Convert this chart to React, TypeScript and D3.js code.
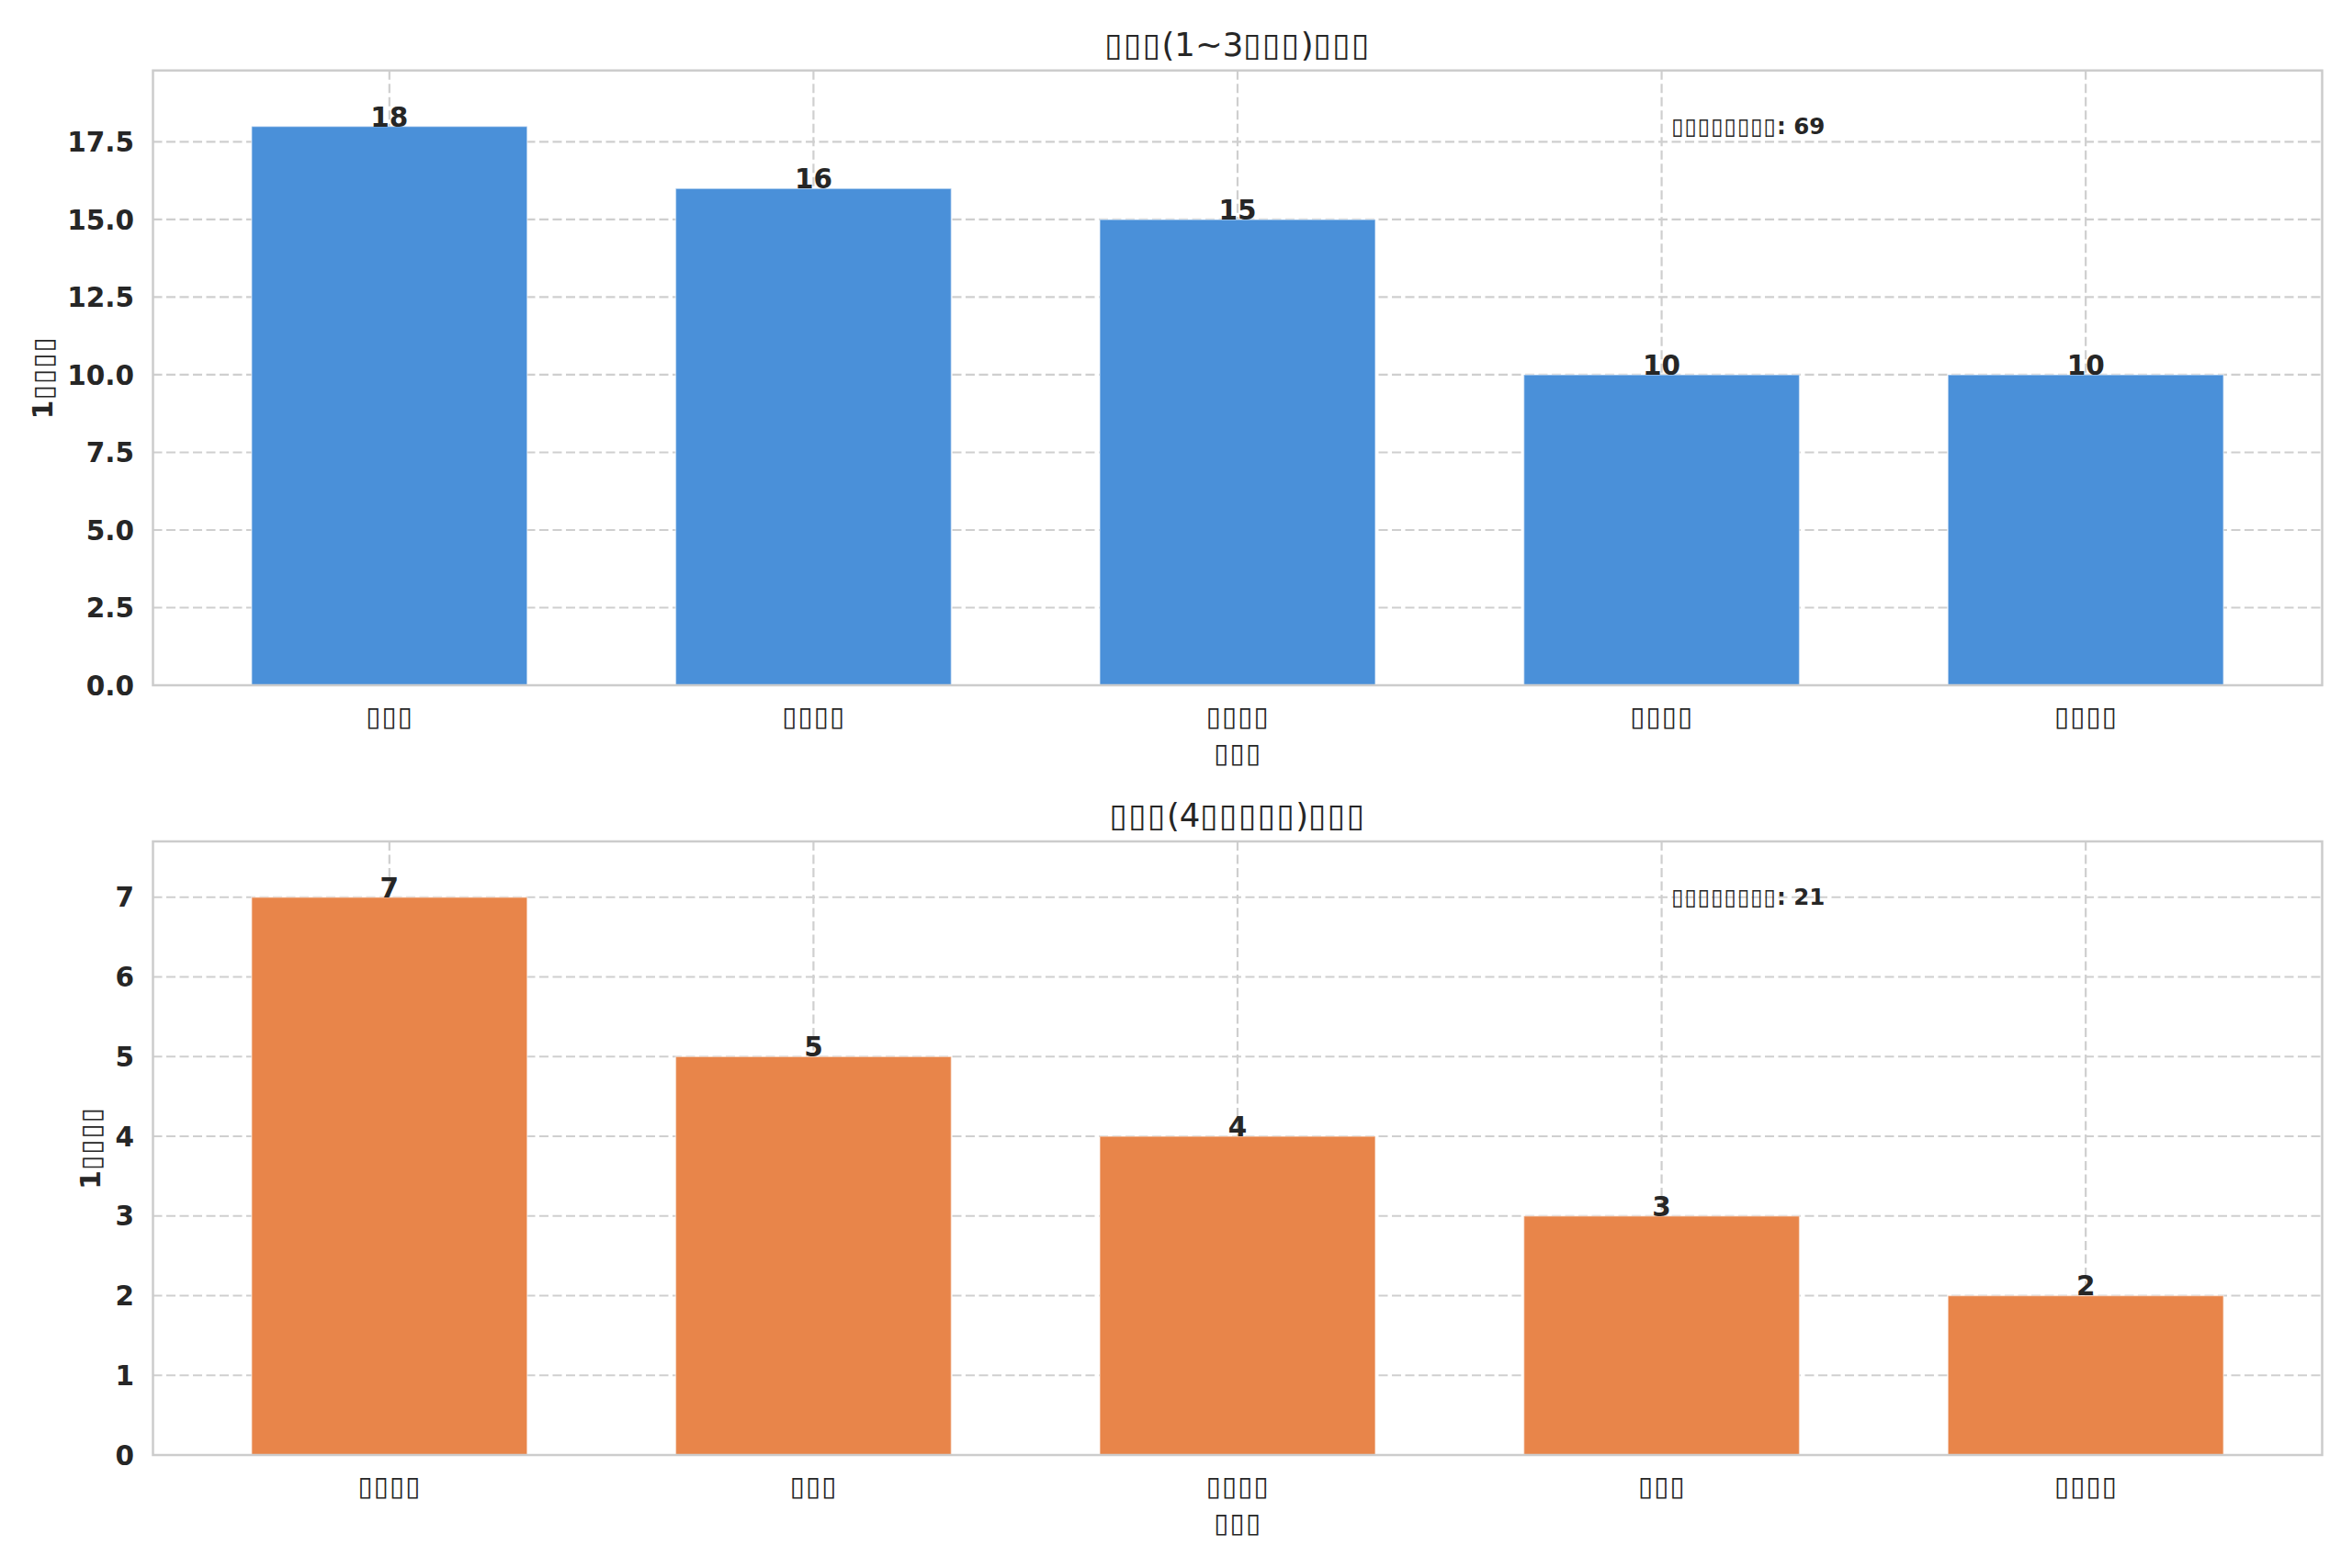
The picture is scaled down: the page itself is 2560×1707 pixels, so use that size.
import React from "react";
import * as d3 from "d3";

const W = 2560;
const H = 1707;

// ---- data ----
const TOFU = "\u25AF";
const t = (n: number) => TOFU.repeat(n);

const lowerTitle = `${t(3)}(1~3${t(3)})${t(3)}`;
const upperTitle = `${t(3)}(4${t(5)})${t(3)}`;
const yLabelText = `1${t(4)}`;
const xLabelText = t(3);

const lowerCategories = [t(3), t(4), t(4), t(4), t(4)];
const lowerValues = [18, 16, 15, 10, 10];
const lowerTicks = [0, 2.5, 5, 7.5, 10, 12.5, 15, 17.5];
const lowerTotalLabel = `${t(8)}: 69`;

const upperCategories = [t(4), t(3), t(4), t(3), t(4)];
const upperValues = [7, 5, 4, 3, 2];
const upperTicks = [0, 1, 2, 3, 4, 5, 6, 7];
const upperTotalLabel = `${t(8)}: 21`;

const FONT = "'DejaVu Sans', sans-serif";
const TEXT = "#262626";
const GRID = "#cfcfcf";
const SPINE = "#cccccc";
const FS = 29.5;

// split a label into runs so the box glyphs get a touch of extra advance
function Txt({ s }: { s: string }) {
  const runs: { box: boolean; text: string }[] = [];
  for (const ch of s) {
    const box = ch === TOFU;
    const last = runs[runs.length - 1];
    if (last && last.box === box) last.text += ch;
    else runs.push({ box, text: ch });
  }
  return (
    <>
      {runs.map((r, i) =>
        r.box ? (
          <tspan key={i} letterSpacing="0.035em">
            {r.text}
          </tspan>
        ) : (
          <tspan key={i}>{r.text}</tspan>
        )
      )}
    </>
  );
}

type PanelProps = {
  top: number;
  bottom: number;
  title: string;
  categories: string[];
  values: number[];
  ticks: number[];
  tickFormat: (v: number) => string;
  color: string;
  totalLabel: string;
};

const LEFT = 166.5;
const RIGHT = 2527.5;
const BAR_W = 0.65;

function estWidthBold(s: string, size: number) {
  let w = 0;
  for (const ch of s) w += ch === "." ? 0.38 : 0.696;
  return w * size;
}

function Panel(p: PanelProps) {
  const n = p.categories.length;
  const margin = (n - 1 + BAR_W) * 0.05;
  const x = d3
    .scaleLinear()
    .domain([-BAR_W / 2 - margin, n - 1 + BAR_W / 2 + margin])
    .range([LEFT, RIGHT]);
  const yMax = (d3.max(p.values) as number) * 1.1;
  const y = d3.scaleLinear().domain([0, yMax]).range([p.bottom, p.top]);
  const idx = d3.range(n);
  const bw = x(BAR_W) - x(0);
  const tickLabelX = LEFT - 20.5;
  const maxTickW = d3.max(p.ticks, (v) => estWidthBold(p.tickFormat(v), FS)) as number;
  const yLabelX = tickLabelX - maxTickW - 11 - 5;
  const midY = (p.top + p.bottom) / 2;
  const h = p.bottom - p.top;

  return (
    <g>
      {/* grid */}
      {p.ticks.map((v) => (
        <line
          key={"gy" + v}
          x1={LEFT}
          x2={RIGHT}
          y1={y(v)}
          y2={y(v)}
          stroke={GRID}
          strokeWidth={2.2}
          strokeDasharray="10 4.5"
        />
      ))}
      {idx.map((i) => (
        <line
          key={"gx" + i}
          x1={x(i)}
          x2={x(i)}
          y1={p.top}
          y2={p.bottom}
          stroke={GRID}
          strokeWidth={2.2}
          strokeDasharray="10 4.5"
        />
      ))}
      {/* bars */}
      {idx.map((i) => (
        <rect
          key={"b" + i}
          x={x(i) - bw / 2}
          y={y(p.values[i])}
          width={bw}
          height={y(0) - y(p.values[i])}
          fill={p.color}
          stroke="#ffffff"
          strokeOpacity={0.5}
          strokeWidth={1.5}
        />
      ))}
      {/* value labels */}
      {idx.map((i) => (
        <text
          key={"v" + i}
          x={x(i)}
          y={y(p.values[i])}
          textAnchor="middle"
          fontFamily={FONT}
          fontWeight="bold"
          fontSize={FS}
          fill={TEXT}
        >
          {p.values[i]}
        </text>
      ))}
      {/* spines */}
      <rect
        x={LEFT}
        y={p.top}
        width={RIGHT - LEFT}
        height={h}
        fill="none"
        stroke={SPINE}
        strokeWidth={2.5}
      />
      {/* y tick labels */}
      {p.ticks.map((v) => (
        <text
          key={"ty" + v}
          x={tickLabelX}
          y={y(v) + 10.7}
          textAnchor="end"
          fontFamily={FONT}
          fontWeight="bold"
          fontSize={FS}
          fill={TEXT}
        >
          {p.tickFormat(v)}
        </text>
      ))}
      {/* x tick labels */}
      {idx.map((i) => (
        <text
          key={"tx" + i}
          x={x(i)}
          y={p.bottom + 44}
          textAnchor="middle"
          fontFamily={FONT}
          fontSize={FS}
          fill={TEXT}
        >
          <Txt s={p.categories[i]} />
        </text>
      ))}
      {/* axis labels */}
      <text
        x={(LEFT + RIGHT) / 2}
        y={p.bottom + 83.5}
        textAnchor="middle"
        fontFamily={FONT}
        fontSize={FS}
        fill={TEXT}
      >
        <Txt s={xLabelText} />
      </text>
      <text
        transform={`translate(${yLabelX},${midY}) rotate(-90)`}
        textAnchor="middle"
        fontFamily={FONT}
        fontWeight="bold"
        fontSize={FS}
        fill={TEXT}
      >
        <Txt s={yLabelText} />
      </text>
      {/* title */}
      <text
        x={(LEFT + RIGHT) / 2}
        y={p.top - 15.7}
        textAnchor="middle"
        fontFamily={FONT}
        fontSize={35.5}
        fill={TEXT}
      >
        <Txt s={p.title} />
      </text>
      {/* total annotation */}
      <text
        x={LEFT + 0.7 * (RIGHT - LEFT)}
        y={p.bottom - 0.896 * h}
        fontFamily={FONT}
        fontWeight="bold"
        fontSize={24.5}
        fill={TEXT}
      >
        <Txt s={p.totalLabel} />
      </text>
    </g>
  );
}

export default function App() {
  return (
    <svg
      width={W}
      height={H}
      viewBox={`0 0 ${W} ${H}`}
      style={{ position: "absolute", left: 0, top: 0, display: "block", background: "#ffffff" }}
    >
      <rect x={0} y={0} width={W} height={H} fill="#ffffff" />
      <Panel
        top={76.7}
        bottom={746}
        title={lowerTitle}
        categories={lowerCategories}
        values={lowerValues}
        ticks={lowerTicks}
        tickFormat={(v) => v.toFixed(1)}
        color="#4a90d9"
        totalLabel={lowerTotalLabel}
      />
      <Panel
        top={916}
        bottom={1584}
        title={upperTitle}
        categories={upperCategories}
        values={upperValues}
        ticks={upperTicks}
        tickFormat={(v) => String(v)}
        color="#e8854a"
        totalLabel={upperTotalLabel}
      />
    </svg>
  );
}
